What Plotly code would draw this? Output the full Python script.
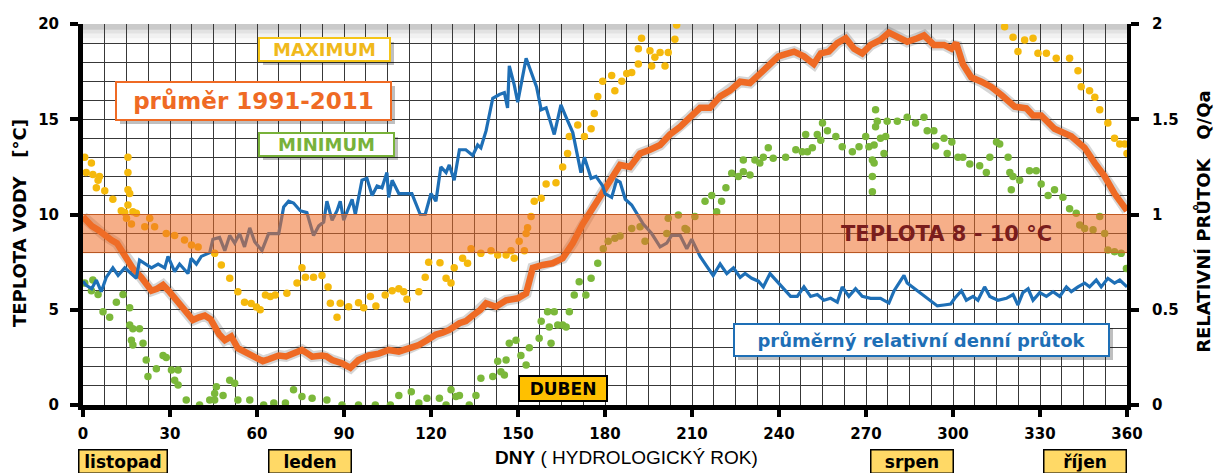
import plotly.graph_objects as go

# ---- průměrná teplota vody 1991-2011 (°C) ----
avg_day = [0, 3, 5.2, 7.5, 9.8, 11.7, 14.4, 17.2, 20.1, 22, 23.6, 25.5, 27.6, 29.5, 31.6, 33.5, 35,
           37.9, 40, 42, 44, 45.4, 47, 48.9, 51.1, 53.4, 55, 56.9, 59.8, 62, 64, 66, 67.5, 70, 72,
           75.5, 77, 79, 82.4, 84, 85.9, 89.3, 92.2, 95, 98.5, 102, 105.4, 108.9, 112.3, 115.8,
           118.6, 121.7, 124, 126.3, 129.8, 132, 134.4, 137, 139, 142.4, 145.9, 149.9, 152.8,
           155.1, 158.5, 161.9, 165.4, 168.9, 172.3, 175.8, 178.5, 181.7, 185.2, 188.6, 192.1,
           195.5, 199, 202.4, 205.9, 209.3, 212.8, 216.2, 219.7, 223.1, 226.6, 230, 233.4, 236.9,
           239.8, 242, 245.2, 248.6, 252, 254.4, 257.2, 260.1, 263, 265.9, 268.7, 271.6, 275,
           277.9, 280.8, 284.2, 287.7, 290, 293.4, 296.9, 299.5, 301.1, 303.4, 306.3, 309.8,
           313.2, 316.7, 321.3, 325.3, 327.6, 330.4, 335, 340.8, 345.4, 348.9, 352.3, 355.7, 360]
avg_temp = [9.88, 9.4, 9.19, 8.9, 8.66, 8.5, 7.87, 7.17, 6.7, 6.3, 6.0, 6.1, 6.3, 6.0, 5.6, 5.3, 5.0,
            4.46, 4.6, 4.7, 4.5, 4.1, 3.7, 3.4, 3.6, 2.98, 2.85, 2.7, 2.45, 2.3, 2.4, 2.5, 2.6, 2.55,
            2.7, 2.89, 2.75, 2.54, 2.6, 2.55, 2.36, 2.19, 1.95, 2.36, 2.6, 2.7, 2.89, 2.8, 2.97, 3.15,
            3.4, 3.7, 3.8, 3.94, 4.29, 4.4, 4.7, 5.0, 5.34, 5.16, 5.5, 5.6, 5.86,
            7.2, 7.35, 7.44, 7.7, 8.5, 9.5, 10.3, 11.0, 11.8, 12.6, 12.5, 13.2,
            13.4, 13.65, 14.2, 14.6, 15.1, 15.6, 15.6, 16.2, 16.5, 16.97, 16.9, 17.4, 17.9,
            18.3, 18.4, 18.55, 18.3, 17.9, 18.46, 18.55, 19.0, 19.25, 18.7, 18.46, 18.9, 19.16,
            19.55, 19.33, 19.07, 19.25, 19.4, 18.9, 18.9, 18.7, 19.0, 17.9, 17.2, 16.97,
            16.7, 16.27, 15.66, 15.57, 15.2, 15.2, 14.5, 14.1, 13.5, 12.7, 12.0, 11.1, 10.2]

# ---- průměrný relativní denní průtok Q/Qa ----
flow_day = [0, 1, 3, 4.6, 6.3, 8, 10.3, 12.1, 14.4, 16.7, 18.4, 19.5, 21.8, 23.6, 25.9, 28.2, 29.3,
            31.6, 33.3, 34.5, 36.2, 37.3, 39.1, 40.8, 43.7, 44.8, 47.1, 48.9, 50.6, 52.3, 54, 55.7,
            57.5, 59.2, 61.7, 64, 67.5, 69.2, 70.9, 72.6, 74.9, 77.2, 79.5, 81.3, 83, 84.1, 85.9,
            87.6, 88.7, 89.9, 92.8, 93.9, 96.2, 97.9, 99.7, 101.4, 103.1, 104.8, 105.4, 106.6,
            108.9, 113.4, 116.3, 118, 120, 121.7, 123.4, 125.2, 126.3, 128, 129.8, 132, 134.4,
            136.1, 137.2, 139, 141.3, 143.6, 145.3, 146.4, 147, 148.7, 149.9, 152.8, 155.1, 156.4,
            158, 159.7, 162.5, 164.8, 166.6, 168.9, 171.7, 172.9, 175.2, 176.9, 179.2, 180, 182.3,
            184, 185.2, 187, 189.2, 190.9, 193.2, 196.1, 199, 201.3, 203, 205.9, 208.2, 209.9,
            212.8, 215, 217.3, 219.7, 222, 224.3, 226.6, 228.3, 230.6, 232.9, 234.6, 236.9, 239.2,
            240, 242.3, 244, 246.3, 248.6, 250.9, 253.2, 255.5, 257.8, 260.1, 261.8, 264.1, 266.4,
            268.7, 271.6, 275, 277.9, 279.7, 282.5, 283.1, 284.2, 286, 288.9, 292.3, 294.6, 296.9,
            299.2, 300.6, 302.9, 304.6, 306.9, 308.6, 310.9, 312.7, 315.5, 318.4, 320.7, 322.4,
            324.1, 325.9, 327.6, 329.9, 332.2, 334.5, 336.8, 339.1, 340.8, 343.1, 345.4, 347.1,
            349.4, 351.1, 353.4, 355.7, 357.5, 360]
flow_rel = [0.65, 0.63, 0.61, 0.656, 0.595, 0.67, 0.72, 0.68, 0.72, 0.69, 0.665, 0.76, 0.735, 0.72,
            0.74, 0.72, 0.78, 0.70, 0.74, 0.72, 0.69, 0.77, 0.74, 0.78, 0.80, 0.87, 0.88, 0.81, 0.89,
            0.85, 0.90, 0.83, 0.93, 0.857, 0.81, 0.90, 0.90, 1.04, 1.07, 1.06, 1.02, 1.01, 0.89,
            0.94, 0.96, 1.07, 0.97, 1.02, 1.07, 0.97, 1.08, 1.0, 1.18, 1.19, 1.10, 1.15, 1.14, 1.22,
            1.09, 1.18, 1.11, 1.11, 1.0, 1.0, 1.11, 1.07, 1.25, 1.22, 1.26, 1.18, 1.34, 1.34, 1.31,
            1.365, 1.35, 1.44, 1.61, 1.63, 1.64, 1.56, 1.78, 1.68, 1.59, 1.82, 1.72, 1.67, 1.55,
            1.56, 1.42, 1.575, 1.51, 1.43, 1.22, 1.30, 1.19, 1.20, 1.15, 1.11, 1.09, 1.18, 1.17,
            1.08, 1.05, 1.01, 0.95, 0.90, 0.83, 0.85, 0.89, 0.89, 0.82, 0.87, 0.78, 0.73, 0.68,
            0.74, 0.69, 0.72, 0.67, 0.69, 0.665, 0.65, 0.62, 0.69, 0.65, 0.64, 0.595, 0.57, 0.57,
            0.62, 0.57, 0.58, 0.55, 0.56, 0.54, 0.62, 0.57, 0.61, 0.57, 0.56, 0.56, 0.535, 0.60,
            0.66, 0.68, 0.64, 0.62, 0.586, 0.55, 0.52, 0.525, 0.53, 0.56, 0.60, 0.55, 0.57, 0.55,
            0.62, 0.57, 0.55, 0.56, 0.58, 0.525, 0.59, 0.61, 0.55, 0.59, 0.57, 0.595, 0.57, 0.62,
            0.595, 0.62, 0.64, 0.62, 0.656, 0.62, 0.665, 0.64, 0.656, 0.62]

# ---- maximum teploty vody (°C) ----
max_day = [0.6, 1.1, 2.9, 3.4, 4.6, 5.2, 5.7, 7.5, 10.3, 13.2, 14.4, 15.0, 15.5, 15.5, 15.5, 16.1,
           15.5, 16.7, 17.2, 18.4, 21.3, 23, 24.7, 28.7, 31.6, 35, 37.4, 39.7, 45.4, 47.7, 50.6,
           53.4, 55.7, 58, 59.8, 61.1, 62.9, 64.6, 66.3, 70.3, 73.8, 75.5, 76.7, 79.5, 82.4, 84.5,
           85.3, 87.6, 88.7, 91.6, 95, 96.8, 99.1, 101, 104.2, 106.6, 108.9, 110.6, 111.7, 115.8,
           118, 119.2, 123.1, 125.2, 126.9, 128, 130.9, 132.6, 133.8, 137.2, 140.7, 143, 145.9,
           147.6, 148.7, 150.4, 152.2, 152.8, 153.3, 154.5, 155.6, 158, 159.7, 163.1, 165.4,
           167.1, 167.7, 170.6, 172.9, 175.2, 176.3, 177.5, 179.2, 182.3, 183.4, 185.8, 187.5,
           189.2, 191.5, 191.5, 192.6, 195.5, 196.1, 197.2, 199, 200.7, 201.8, 204.1, 204.7,
           317.8, 320.7, 322.4, 324.7, 327.6, 329.3, 332.2, 335.6, 340.2, 343.1, 344.2, 347.1,
           348.9, 350.6, 353.4, 355.7, 357.5, 359.2, 360]
max_temp = [13.0, 12.2, 12.7, 12.1, 11.4, 11.8, 12.0, 11.25, 10.8, 10.2, 10.1, 9.8, 13.0, 12.2, 11.3,
            11.1, 10.5, 9.5, 10.15, 10.06, 9.36, 9.8, 9.36, 9.0, 8.9, 8.66, 8.4, 8.3, 7.96, 7.35,
            6.65, 5.95, 5.4, 5.33, 5.15, 5.0, 5.77, 5.7, 5.77, 5.86, 6.4, 7.2, 6.7, 6.7, 6.8, 6.2,
            5.34, 4.6, 5.34, 5.16, 5.37, 5.1, 5.7, 5.2, 5.77, 6.0, 6.1, 5.95, 5.55, 5.95,
            6.7, 7.5, 7.47, 6.65, 6.4, 7.2, 7.7, 7.44, 8.2, 7.96, 8.1, 7.87, 7.87,
            8.1, 7.7, 8.6, 8.1, 9.0, 9.3, 9.9, 10.7, 10.85, 11.6, 11.67, 12.5,
            13.2, 14.1, 14.7, 14.1, 14.5, 15.3, 16.2, 17.0, 17.3, 16.5, 17.0, 17.4,
            17.45, 17.9, 18.7, 19.25, 18.6, 17.8, 18.25, 18.5, 17.8, 18.5, 19.2, 19.95,
            19.86, 19.3, 18.55, 19.16, 19.25, 18.46, 18.46, 18.2, 18.2, 17.55, 16.7, 16.5,
            16.15, 15.5, 14.8, 14.0, 13.7, 13.7, 13.2]

# ---- minimum teploty vody (°C) ----
min_day = [0.6, 2.9, 3.4, 5.2, 6.9, 9.2, 11.5, 13.8, 16.1, 16.1, 17.2, 19.5, 16.7, 17.2, 20.7, 21.8,
           22.4, 25.3, 27.6, 28.7, 30.5, 32.8, 31.6, 32.8, 35.6, 40.2, 43.7, 45.4, 46, 45.4, 48.3,
           50.6, 52.3, 53.4, 57.5, 62.3, 65.8, 69.8, 72.6, 75.5, 79, 84.1, 89.3, 95, 100.8, 106,
           108.9, 113.2, 115.8, 118.6, 122.9, 125.2, 126.9, 128.6, 129.8, 133.2, 135.5, 137.2,
           141.3, 143, 144.1, 145.3, 145.9, 147, 149.3, 151, 152.8, 153.9, 157.3, 158, 161.4,
           160.2, 162.5, 160.8, 163.7, 165.4, 166.6, 167.7, 169.4, 171.1, 173.4, 175.2, 177.5,
           179.4, 181.1, 183.4, 185.2, 189.2, 192.1, 193.8, 201.3, 201.8, 205.3, 207.6, 208.2,
           211, 214.5, 216.8, 218.5, 220.2, 221.7, 223.7, 226, 227.7, 227.7, 230, 231.7, 233.4,
           234.6, 236.3, 238, 242.3, 245.8, 248, 249.8, 251.5, 249.2, 253.2, 254.4, 255, 256.7,
           259.6, 261.8, 265.3, 267.6, 269.9, 271, 272.2, 272.8, 272.2, 272.2, 272.8, 273.3,
           273.3, 273.9, 275, 276.8, 276.2, 277.3, 280.8, 284.2, 287.1, 290, 291.1, 293.4, 294,
           296.9, 298, 299.6, 301.7, 303.4, 305.8, 309.2, 311.5, 312.7, 315, 316.1, 319, 319.6,
           320.7, 323, 320.1, 326.4, 328.7, 330.4, 332.8, 335, 337.9, 340.2, 342.5, 343.7, 345.4,
           348.3, 350.6, 352.3, 353.4, 355.7, 358, 359.8]
min_temp = [6.4, 6.0, 6.56, 5.8, 4.9, 4.6, 5.4, 5.8, 5.1, 4.2, 4.0, 4.0, 3.4, 3.15, 3.24, 2.36,
            1.5, 1.9, 2.6, 2.5, 1.84, 1.84, 1.3, 1.05, 0.26, 0.0, 0.26, 0.6, 0.96, 0.26, 0.5,
            1.3, 1.14, 0.26, 0.26, 0.0, 0.1, 0.1, 0.8, 0.44, 0.35, 0.26, 0.0, 0.0, 0.0, 0.0,
            0.5, 0.7, 0.1, 0.35, 0.35, 0.0, 0.8, 0.44, 0.5, 0.0, 0.5, 1.4,
            1.5, 2.3, 1.75, 1.57, 2.36, 3.24, 3.4, 2.6, 2.1, 3.0, 3.5, 4.4, 3.24,
            4.9, 4.9, 4.1, 4.2, 4.2, 4.1, 4.9, 5.77, 6.47, 5.77, 6.65, 7.44,
            8.2, 8.6, 8.75, 8.87, 9.27, 9.36, 8.6, 9.0, 9.8, 9.97, 9.27, 9.2,
            9.9, 10.7, 11.0, 10.15, 10.7, 11.4, 12.16, 12.0, 12.25, 12.86, 12.07, 12.86, 12.7,
            13.0, 13.5, 12.95, 13.0, 13.4, 13.3, 13.3, 13.5, 14.2, 14.2, 13.9, 14.8, 14.4,
            14.1, 13.55, 13.3, 13.56, 14.1, 13.56, 12.86, 12.7, 12.0, 11.2, 13.65, 14.6,
            15.5, 14.9, 14.0, 14.1, 13.2, 14.9, 14.9, 15.1, 14.8, 15.1, 14.4, 14.4, 13.6,
            14.0, 13.2, 13.8, 13.0, 13.0, 12.65, 12.56, 12.2, 13.0, 13.8, 13.7, 13.0, 12.2,
            12.0, 11.8, 11.3, 12.3, 12.3, 11.6, 11.0, 11.3, 10.9, 10.3, 10.06, 9.45, 9.27,
            9.2, 9.9, 9.0, 8.14, 8.05, 7.96, 7.17]

day_ticks = list(range(0, 361, 30))
temp_ticks = [0, 5, 10, 15, 20]
flow_ticks = [0, 0.5, 1, 1.5, 2]
band_low, band_high = 8, 10
months = [("listopad", 13.8, 85), ("leden", 78.3, 79), ("srpen", 285.9, 79), ("říjen", 345.5, 79)]

BOLD = "DejaVu Sans"
GRID = "#383838"
ORANGE = "#EF6A24"
BLUE = "#1E6FB6"
YELLOW = "#F5B90C"
GREEN = "#7BB83A"

fig = go.Figure()

fig.add_trace(go.Scatter(x=max_day, y=max_temp, mode="markers", name="MAXIMUM",
                         marker=dict(color=YELLOW, size=7.5), yaxis="y"))
fig.add_trace(go.Scatter(x=min_day, y=min_temp, mode="markers", name="MINIMUM",
                         marker=dict(color=GREEN, size=7.5), yaxis="y"))
# soft shadow under the mean temperature line
fig.add_trace(go.Scatter(x=avg_day, y=avg_temp, mode="lines", name="stín",
                         line=dict(color="rgba(70,70,70,0.22)", width=11), hoverinfo="skip"))
fig.add_trace(go.Scatter(x=avg_day, y=avg_temp, mode="lines", name="průměr 1991-2011",
                         line=dict(color=ORANGE, width=6.5)))
fig.add_trace(go.Scatter(x=flow_day, y=flow_rel, mode="lines", name="průměrný relativní denní průtok",
                         line=dict(color=BLUE, width=3.2), yaxis="y2"))

shapes = [
    dict(type="rect", xref="x", yref="y", x0=0, x1=360, y0=band_low, y1=band_high,
         fillcolor="rgba(238,110,40,0.55)", line=dict(width=0), layer="above"),
    dict(type="line", xref="x", yref="y", x0=0, x1=360, y0=band_low, y1=band_low,
         line=dict(color="rgba(215,95,30,0.8)", width=1), layer="above"),
    dict(type="line", xref="x", yref="y", x0=0, x1=360, y0=band_high, y1=band_high,
         line=dict(color="rgba(215,95,30,0.8)", width=1), layer="above"),
]
# faint grey shading along the top edge of the plotting area
for top, alpha in [(19.95, 0.10), (19.75, 0.06), (19.5, 0.035), (19.2, 0.02)]:
    shapes.append(dict(type="rect", xref="x", yref="y", x0=0, x1=360, y0=top - 0.25, y1=20,
                       fillcolor="rgba(0,0,0,%.3f)" % alpha, line=dict(width=0), layer="below"))

annotations = []


def add_box(x, y, text, color, border, bg, size, w, h, xref="x", yref="y",
            shadow=True, bw=2, pad=1, family=BOLD):
    if shadow:
        annotations.append(dict(x=x, y=y, xref=xref, yref=yref, text=" ", showarrow=False,
                                xanchor="center", yanchor="middle",
                                width=w, height=h, borderpad=pad, borderwidth=bw,
                                bordercolor="rgba(0,0,0,0)", bgcolor="rgba(0,0,0,0.25)",
                                xshift=4, yshift=-4))
    annotations.append(dict(x=x, y=y, xref=xref, yref=yref, text="<b>%s</b>" % text,
                            showarrow=False, xanchor="center", yanchor="middle",
                            width=w, height=h, borderpad=pad, borderwidth=bw,
                            bordercolor=border, bgcolor=bg,
                            font=dict(family=family, size=size, color=color)))


add_box(83.3, 18.66, "MAXIMUM", "#F0B91C", "#F5C518", "white", 18, 127, 19)
add_box(58.8, 15.96, "průměr 1991-2011", ORANGE, ORANGE, "white", 23, 271, 34)
add_box(84.0, 13.67, "MINIMUM", "#78B23A", "#78B23A", "white", 18, 131, 19)
add_box(289.1, 3.41, "průměrný relativní denní průtok", BLUE, BLUE, "white", 18, 371, 28)
add_box(165.5, 0.87, "DUBEN", "black", "black", "#FFC000", 17, 84, 21, shadow=False)
for name, cx, w in months:
    add_box(cx, -0.147, name, "black", "black", "#FFD966", 17, w, 20, yref="paper",
            shadow=False, bw=1.5)

annotations.append(dict(x=297.9, y=9.0, xref="x", yref="y", showarrow=False,
                        xanchor="center", yanchor="middle",
                        text="<b>TEPLOTA 8 - 10 °C</b>",
                        font=dict(family=BOLD, size=21, color="#7A1D1D")))
annotations.append(dict(x=0.521, y=-0.139, xref="paper", yref="paper", showarrow=False,
                        xanchor="center", yanchor="middle",
                        text="<b>DNY</b> ( HYDROLOGICKÝ ROK)",
                        font=dict(family="Liberation Sans", size=19, color="black")))
annotations.append(dict(x=-0.0615, y=0.477, xref="paper", yref="paper", showarrow=False,
                        xanchor="center", yanchor="middle",
                        textangle=-90, text="<b>TEPLOTA VODY&nbsp;&nbsp;&nbsp;[°C]</b>",
                        font=dict(family=BOLD, size=18, color="black")))
annotations.append(dict(x=1.0725, y=0.48, xref="paper", yref="paper", showarrow=False,
                        xanchor="center", yanchor="middle",
                        textangle=-90, text="<b>RELATIVNÍ PRŮTOK&nbsp;&nbsp;&nbsp;Q/Qa</b>",
                        font=dict(family=BOLD, size=18, color="black")))

tick_font = dict(family=BOLD, size=15, color="black", weight="bold")

fig.update_layout(
    width=1217, height=473, autosize=False,
    margin=dict(l=83, r=90, t=24, b=68, pad=0),
    paper_bgcolor="white", plot_bgcolor="white",
    showlegend=False,
    shapes=shapes, annotations=annotations,
    xaxis=dict(range=[0, 360], tickvals=day_ticks, ticks="outside", ticklen=7, tickwidth=4,
               tickcolor="black", showline=True, linewidth=5, linecolor="black",
               showgrid=True, gridcolor=GRID, gridwidth=1, zeroline=False,
               minor=dict(dtick=7.5, showgrid=True, gridcolor=GRID, gridwidth=1),
               tickfont=tick_font, ticklabelstandoff=4),
    yaxis=dict(range=[0, 20], tickvals=temp_ticks, ticks="outside", ticklen=8, tickwidth=4,
               tickcolor="black", showline=True, linewidth=5, linecolor="black",
               showgrid=True, gridcolor=GRID, gridwidth=1, zeroline=False,
               minor=dict(dtick=1, showgrid=True, gridcolor=GRID, gridwidth=1),
               tickfont=tick_font, ticklabelstandoff=8),
    yaxis2=dict(range=[0, 2], tickvals=flow_ticks, overlaying="y", side="right", ticks="outside",
                ticklen=8, tickwidth=4, tickcolor="black", showline=True, linewidth=4,
                linecolor="black", showgrid=False, zeroline=False, tickfont=tick_font,
                ticklabelstandoff=10),
)

fig.write_html("out.html")
